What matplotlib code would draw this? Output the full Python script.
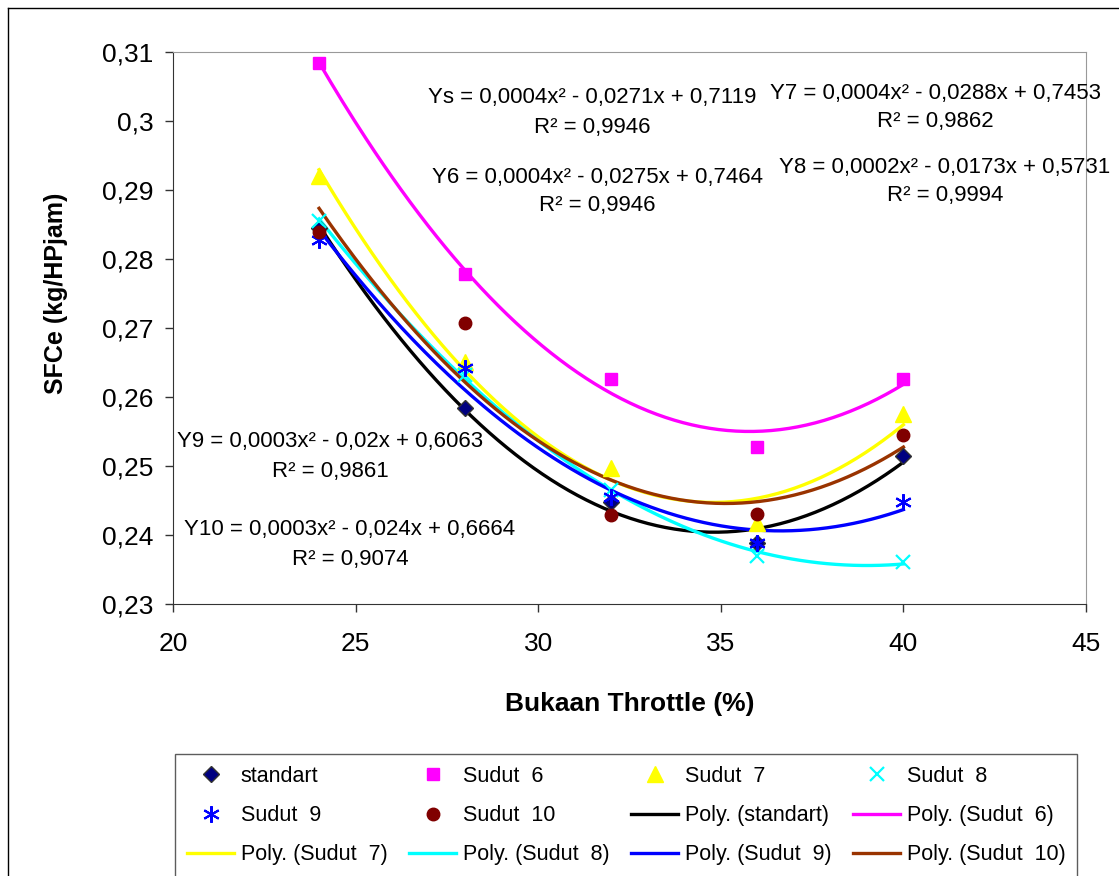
import numpy as np
import matplotlib.pyplot as plt
from matplotlib.lines import Line2D

plt.rcParams['font.family'] = ['Liberation Sans', 'DejaVu Sans']

# data
throttle = [24, 28, 32, 36, 40]
standart = [0.2845, 0.2584, 0.2448, 0.2388, 0.2514]
sudut6 = [0.3084, 0.2778, 0.2626, 0.2528, 0.2626]
sudut7 = [0.2920, 0.2651, 0.2497, 0.2417, 0.2575]
sudut8 = [0.2855, 0.2632, 0.2465, 0.2370, 0.2361]
sudut9 = [0.2828, 0.2642, 0.2455, 0.2388, 0.2448]
sudut10 = [0.2839, 0.2707, 0.2429, 0.2430, 0.2545]

names = ["standart", "Sudut  6", "Sudut  7", "Sudut  8", "Sudut  9", "Sudut  10"]
series = [standart, sudut6, sudut7, sudut8, sudut9, sudut10]
trend_names = ["Poly. (standart)", "Poly. (Sudut  6)", "Poly. (Sudut  7)",
               "Poly. (Sudut  8)", "Poly. (Sudut  9)", "Poly. (Sudut  10)"]

equations = [
    ("Ys = 0,0004x² - 0,0271x + 0,7119", "R² = 0,9946", 592, 97, 128),
    ("Y6 = 0,0004x² - 0,0275x + 0,7464", "R² = 0,9946", 597, 177, 206),
    ("Y7 = 0,0004x² - 0,0288x + 0,7453", "R² = 0,9862", 935, 93, 122),
    ("Y8 = 0,0002x² - 0,0173x + 0,5731", "R² = 0,9994", 945, 168, 196),
    ("Y9 = 0,0003x² - 0,02x + 0,6063", "R² = 0,9861", 330, 441, 471),
    ("Y10 = 0,0003x² - 0,024x + 0,6664", "R² = 0,9074", 350, 529, 559),
]

marker_styles = [
    dict(marker='D', color='#000080', markeredgecolor='#333333', markersize=8),
    dict(marker='s', color='#FF00FF', markeredgecolor='#FF00FF', markersize=9),
    dict(marker='^', color='#FFFF00', markeredgecolor='#FFFF00', markersize=11),
    dict(marker='x', color='#00FFFF', markeredgecolor='#00FFFF', markersize=10, markeredgewidth=1.6),
    dict(marker=(6, 2, 0), color='#0000FF', markeredgecolor='#0000FF', markersize=12, markeredgewidth=1.5),
    dict(marker='o', color='#800000', markeredgecolor='#800000', markersize=9),
]
line_colors = ['#000000', '#FF00FF', '#FFFF00', '#00FFFF', '#0000FF', '#993300']

W, H = 1119, 876
fig = plt.figure(figsize=(W / 100, H / 100), dpi=100)
ax = fig.add_axes([173 / W, 1 - 604 / H, (1086 - 173) / W, (604 - 52) / H])

x_fit = np.linspace(24, 40, 200)
trend_handles = []
for ys, c, name in zip(series, line_colors, trend_names):
    coef = np.polyfit(throttle, ys, 2)
    ln, = ax.plot(x_fit, np.polyval(coef, x_fit), color=c, lw=2.4, label=name, zorder=2)
    trend_handles.append(ln)

point_handles = []
for ys, st, name in zip(series, marker_styles, names):
    h, = ax.plot(throttle, ys, linestyle='none', label=name, zorder=3, **st)
    point_handles.append(h)

ax.set_xlim(20, 45)
ax.set_ylim(0.23, 0.31)
ax.set_xticks([20, 25, 30, 35, 40, 45])
ax.set_yticks(np.arange(0.23, 0.3101, 0.01))
ax.set_xticklabels(['20', '25', '30', '35', '40', '45'])
ax.set_yticklabels(['0,23', '0,24', '0,25', '0,26', '0,27', '0,28', '0,29', '0,3', '0,31'])
ax.tick_params(labelsize=19, direction='out', length=6, width=1, color='#333333')
ax.tick_params(axis='x', pad=14)
ax.tick_params(axis='y', pad=8)
for side in ['top', 'right']:
    ax.spines[side].set_color('#999999')
for side in ['left', 'bottom']:
    ax.spines[side].set_color('#333333')

ax.set_xlabel('Bukaan Throttle (%)', fontsize=19, fontweight='bold', labelpad=26)
ax.set_ylabel('SFCe (kg/HPjam)', fontsize=18, fontweight='bold', labelpad=14)
ax.yaxis.set_label_coords(-0.115, 1 - (293 - 52) / (604 - 52))

for eq, r2, cx, y1, y2 in equations:
    fig.text(cx / W, 1 - y1 / H, eq, fontsize=16, ha='center', va='center')
    fig.text(cx / W, 1 - y2 / H, r2, fontsize=16, ha='center', va='center')

# legend, row-major order like the reference
rows = [point_handles[0:4], point_handles[4:6] + trend_handles[0:2], trend_handles[2:6]]
ordered = [rows[r][c] for c in range(4) for r in range(3)]
leg = fig.legend(handles=ordered, labels=[h.get_label() for h in ordered],
                 ncol=4, loc='upper left', bbox_to_anchor=(175 / W, 1 - 754 / H),
                 borderaxespad=0, fontsize=15.5, frameon=True, fancybox=False,
                 edgecolor='#333333', handlelength=2.2, handletextpad=0.3,
                 columnspacing=1.0, labelspacing=0.85, borderpad=0.55)
leg.get_frame().set_linewidth(1.0)

# chart area border (left and top visible)
fig.add_artist(Line2D([8 / W, 8 / W], [0, 1 - 8 / H], color='black', lw=1))
fig.add_artist(Line2D([8 / W, 1], [1 - 8 / H, 1 - 8 / H], color='black', lw=1))

fig.savefig('out.png', dpi=100, facecolor='white')
